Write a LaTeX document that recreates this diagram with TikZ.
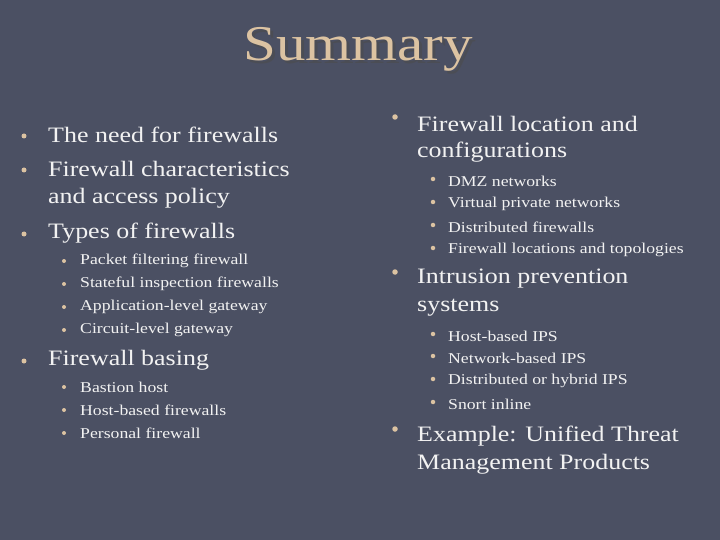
\documentclass[tikz,border=0pt]{standalone}
\usepackage{fontspec}
\setmainfont{Liberation Serif}
\definecolor{bg}{HTML}{4B5063}
\definecolor{tan}{HTML}{DCC3A2}
\definecolor{txt}{HTML}{F2F2F2}
\newcommand{\widen}[1]{\scalebox{1.18}[1]{#1}}
\begin{document}
\begin{tikzpicture}[x=1pt,y=-1pt,
  big/.style={anchor=west,text=txt,inner sep=0pt,font=\fontsize{22}{24}\selectfont},
  sm/.style={anchor=west,text=txt,inner sep=0pt,font=\fontsize{15}{17}\selectfont},
  bul/.style={circle,fill=tan,inner sep=0pt,minimum size=#1}]
\fill[bg] (0,0) rectangle (720,540);
\node[text=black!70,opacity=0.6,font=\fontsize{50}{52}\selectfont] (tsh) at (361,52) {\widen{Summary}};
\node[text=tan,font=\fontsize{50}{52}\selectfont] (title) at (358,49) {\widen{Summary}};
% left column
\foreach \y/\t in {135/The need for firewalls,169/Firewall characteristics,233/Types of firewalls,360/Firewall basing}{
  \node[bul=5pt] at (24,\y+1) {};
  \node[big] at (48,\y) {\widen{\t}};}
\node[big] (l2b) at (48,198) {\widen{and access policy}};
\foreach \y/\t in {261/Packet filtering firewall,284/Stateful inspection firewalls,307/Application-level gateway,330/Circuit-level gateway,387/Bastion host,410/Host-based firewalls,433/Personal firewall}{
  \node[bul=4pt] at (64,\y) {};
  \node[sm] at (80,\y) {\widen{\t}};}
% right column
\foreach \y/\t in {124/Firewall location and,279/Intrusion prevention,436/Example: Unified Threat}{
  \node[bul=5.5pt] at (395,\y-7) {};
  \node[big] at (417,\y) {\widen{\t}};}
\node[big] (r1b) at (417,152) {\widen{configurations}};
\node[big] (r2b) at (417,308) {\widen{systems}};
\node[big] (r3b) at (417,464) {\widen{Management Products}};
\foreach \y/\t in {181/DMZ networks,204/Virtual private networks,227/Distributed firewalls,250/Firewall locations and topologies,336/Host-based IPS,358/Network-based IPS,381/Distributed or hybrid IPS,404/Snort inline}{
  \node[bul=4.5pt] at (433,\y-2) {};
  \node[sm] at (448,\y) {\widen{\t}};}
\end{tikzpicture}
\end{document}
